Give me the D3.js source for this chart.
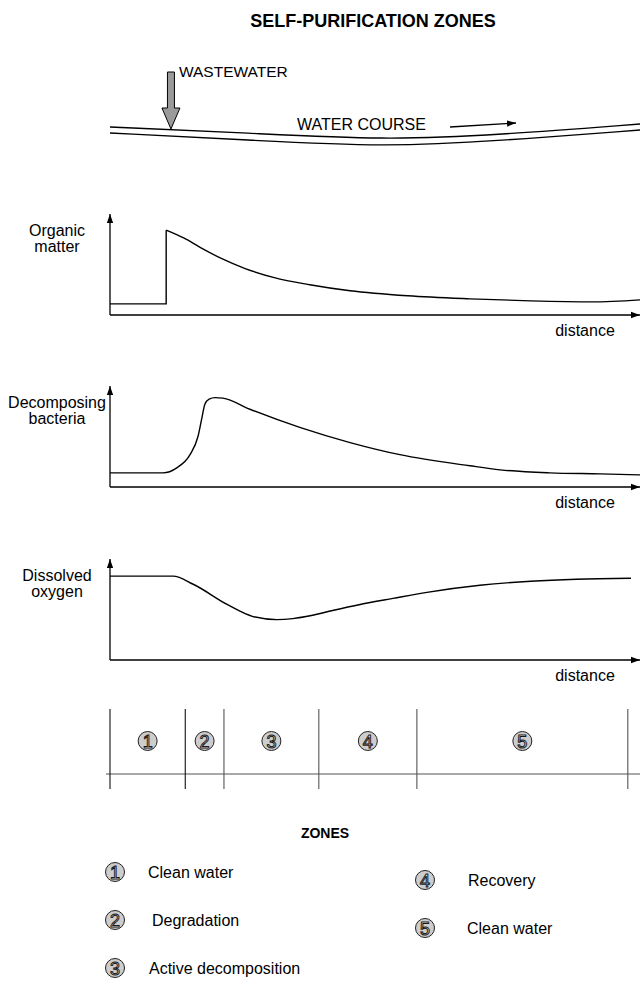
<!DOCTYPE html>
<html>
<head>
<meta charset="utf-8">
<script src="https://cdn.jsdelivr.net/npm/d3@7"></script>
<style>
  body { margin: 0; background: #fff; }
  svg { display: block; font-family: "Liberation Sans", Arial, sans-serif; }
</style>
</head>
<body>
<div id="chart"></div>
<script>
// ---- data (distance runs 0..100 along the water course) ----
const organicMatter = [[10.6, 84], [14, 76], [17, 67], [21, 56], [25.5, 46], [31, 37], [37.7, 30], [45.3, 24], [56.2, 19], [67.9, 16], [79.4, 14], [91, 13], [100, 15]];
const organicBase = [[0, 11], [10.6, 11], [10.6, 84]];

const bacteria = [[0, 14], [10, 14], [12.6, 19], [15.1, 32], [16.6, 50], [17.4, 70], [17.9, 82], [18.7, 87], [19.8, 88.5], [21.3, 88],
  [26.4, 77], [35.8, 59], [45.3, 44], [54.7, 32], [67.9, 21], [73.6, 17], [83, 14], [92.5, 13], [100, 12]];

const oxygen = [[0, 83], [11.9, 83], [15.7, 75], [22.1, 55], [27, 43], [31.5, 40], [34.5, 41], [38, 44], [42, 49], [47.2, 55],
  [53.4, 61], [59.8, 67], [69.8, 74], [79.4, 78], [88, 80], [98.3, 81]];

const riverTop = [[0, 23], [26, 17], [52, 10], [73, 15], [100, 26]];
const riverBottom = [[0, 17], [26, 10], [52, 3], [73, 9], [100, 20]];
const wastewaterAt = 11.5;

const panelLabels = [["Organic", "matter"], ["Decomposing", "bacteria"], ["Dissolved", "oxygen"]];
const zoneEdges = [0, 14.2, 21.5, 39.4, 57.9, 97.7];
const zoneNames = ["Clean water", "Degradation", "Active decomposition", "Recovery", "Clean water"];

// ---- layout ----
const width = 640, height = 986;
const svg = d3.select("#chart").append("svg")
  .attr("width", width).attr("height", height)
  .attr("viewBox", [0, 0, width, height]);

const x = d3.scaleLinear().domain([0, 100]).range([110, 640]);

svg.append("defs").append("marker")
  .attr("id", "head")
  .attr("viewBox", "0 0 10 10")
  .attr("refX", 10).attr("refY", 5)
  .attr("markerWidth", 9).attr("markerHeight", 9)
  .attr("markerUnits", "userSpaceOnUse")
  .attr("orient", "auto")
  .append("path").attr("d", "M0,1.5 L10,5 L0,8.5 Z").attr("fill", "#000");

// title
svg.append("text")
  .attr("x", 373).attr("y", 27)
  .attr("text-anchor", "middle")
  .attr("font-weight", "bold").attr("font-size", 18)
  .text("SELF-PURIFICATION ZONES");

// ---- water course ----
const yRiver = d3.scaleLinear().domain([0, 30]).range([150, 120]);
const riverLine = d3.line().x(d => x(d[0])).y(d => yRiver(d[1])).curve(d3.curveBasis);
[riverTop, riverBottom].forEach(r => {
  svg.append("path").attr("d", riverLine(r))
    .attr("fill", "none").attr("stroke", "#000").attr("stroke-width", 1.3);
});

// wastewater arrow (grey block arrow)
const wx = x(wastewaterAt);
svg.append("path")
  .attr("d", `M${wx - 3.5},72 L${wx + 3.5},72 L${wx + 3.5},108 L${wx + 9},108 L${wx},129 L${wx - 9},108 L${wx - 3.5},108 Z`)
  .attr("fill", "#9a9a9a").attr("stroke", "#000").attr("stroke-width", 1);
svg.append("text").attr("x", wx + 8).attr("y", 77).attr("font-size", 15.5).text("WASTEWATER");

svg.append("text").attr("x", 297).attr("y", 130).attr("font-size", 16).text("WATER COURSE");
svg.append("line")
  .attr("x1", 450).attr("y1", 127).attr("x2", 516).attr("y2", 123)
  .attr("stroke", "#000").attr("stroke-width", 1.3)
  .attr("marker-end", "url(#head)");

// ---- the three panels ----
const panels = [
  { base: 315, series: organicMatter },
  { base: 487, series: bacteria },
  { base: 660, series: oxygen }
];

panels.forEach((p, i) => {
  const y = d3.scaleLinear().domain([0, 100]).range([p.base, p.base - 101]);
  const g = svg.append("g");

  // axes with arrow heads
  g.append("line").attr("x1", x(0)).attr("y1", y(0)).attr("x2", x(0)).attr("y2", y(100))
    .attr("stroke", "#000").attr("stroke-width", 1.3).attr("marker-end", "url(#head)");
  g.append("line").attr("x1", x(0)).attr("y1", y(0)).attr("x2", x(100)).attr("y2", y(0))
    .attr("stroke", "#000").attr("stroke-width", 1.5).attr("marker-end", "url(#head)");

  g.append("text").attr("x", 585).attr("y", y(0) + 21)
    .attr("text-anchor", "middle").attr("font-size", 16).text("distance");

  g.append("text").attr("x", 57).attr("y", y(78))
    .attr("text-anchor", "middle").attr("font-size", 16)
    .selectAll("tspan").data(panelLabels[i]).join("tspan")
    .attr("x", 57).attr("dy", (d, j) => j ? "1.0em" : 0).text(d => d);

  const line = d3.line().x(d => x(d[0])).y(d => y(d[1]));
  if (i === 0) {
    g.append("path").attr("d", line(organicBase))
      .attr("fill", "none").attr("stroke", "#000").attr("stroke-width", 1.4);
  }
  g.append("path").attr("d", line.curve(d3.curveMonotoneX)(p.series))
    .attr("fill", "none").attr("stroke", "#000").attr("stroke-width", 1.4);
});

// ---- zone strip ----
const zoneTop = 709, zoneBottom = 789, zoneAxis = 774;
svg.append("line").attr("x1", x(0) - 4).attr("x2", x(100)).attr("y1", zoneAxis).attr("y2", zoneAxis)
  .attr("stroke", "#555").attr("stroke-width", 1.2);
svg.selectAll(".edge").data(zoneEdges).join("line")
  .attr("x1", d => x(d)).attr("x2", d => x(d))
  .attr("y1", zoneTop).attr("y2", zoneBottom)
  .attr("stroke", (d, i) => i < 2 ? "#111" : "#555").attr("stroke-width", 1.1);

function badge(sel, cx, cy, n) {
  const g = sel.append("g").attr("transform", `translate(${cx},${cy})`);
  g.append("circle").attr("r", 9.5).attr("fill", "#cdcdcd").attr("stroke", "#222").attr("stroke-width", 1);
  g.append("text").attr("y", 6.5).attr("text-anchor", "middle")
    .attr("font-size", 18)
    .attr("fill", "#f2f2f2").attr("stroke", "#1a1a1a").attr("stroke-width", 1)
    .text(n);
}

d3.range(5).forEach(i => {
  badge(svg, x((zoneEdges[i] + zoneEdges[i + 1]) / 2), 741, i + 1);
});

// ---- legend ----
svg.append("text").attr("x", 325).attr("y", 838)
  .attr("text-anchor", "middle").attr("font-weight", "bold").attr("font-size", 14).text("ZONES");

const legendPos = [[115, 872, 148], [115, 920, 152], [115, 968, 149], [425, 880, 468], [425, 928, 467]];
zoneNames.forEach((name, i) => {
  const [cx, cy, tx] = legendPos[i];
  badge(svg, cx, cy, i + 1);
  svg.append("text").attr("x", tx).attr("y", cy + 6).attr("font-size", 16).text(name);
});
</script>
</body>
</html>
